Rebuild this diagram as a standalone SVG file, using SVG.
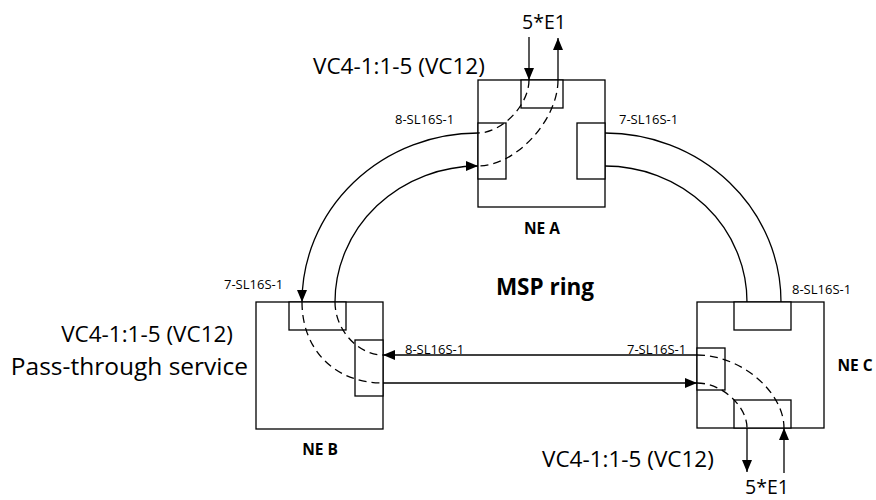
<svg xmlns="http://www.w3.org/2000/svg" width="876" height="500" viewBox="0 0 876 500">
<defs>
<style>
.box{fill:#fff;stroke:#000;stroke-width:1.3}
.port{fill:#fff;stroke:#000;stroke-width:1.3}
.ln{fill:none;stroke:#000;stroke-width:1.3}
.dash{fill:none;stroke:#000;stroke-width:1.3;stroke-dasharray:8 5}
.arr{marker-end:url(#ah)}
text{font-family:"Open Sans","Noto Sans","DejaVu Sans",sans-serif;fill:#000}
.big{font-size:22.5px}
.huge{font-size:24.5px}
.e1{font-size:19.5px}
.sm{font-size:13px}
.ne{font-size:15.5px;font-weight:bold}
.ring{font-size:22.5px;font-weight:bold}
</style>
<marker id="ah" markerWidth="12" markerHeight="10" refX="12" refY="5" orient="auto" markerUnits="userSpaceOnUse">
<path d="M0,0 L12,5 L0,10 z" fill="#000"/>
</marker>
</defs>
<rect width="876" height="500" fill="#fff"/>

<g id="ne-a">
<rect class="box" x="478" y="80" width="127" height="127"/>
<rect class="port" x="521" y="80" width="42" height="28"/>
<rect class="port" x="478" y="123" width="28" height="56"/>
<rect class="port" x="577" y="123" width="28" height="56"/>
<text class="ne" x="542" y="234" text-anchor="middle">NE A</text>
</g>

<g id="ne-b">
<rect class="box" x="256" y="302" width="127" height="127"/>
<rect class="port" x="289" y="302" width="57" height="28"/>
<rect class="port" x="355" y="340" width="28" height="56"/>
<text class="ne" x="320" y="455" text-anchor="middle">NE B</text>
</g>

<g id="ne-c">
<rect class="box" x="697" y="302" width="127" height="126"/>
<rect class="port" x="734" y="302" width="57" height="28"/>
<rect class="port" x="697" y="348" width="28" height="42"/>
<rect class="port" x="734" y="400" width="57" height="28"/>
<text class="ne" x="855" y="371" text-anchor="middle">NE C</text>
</g>

<g id="connectors">
<path class="ln arr" d="M478,133 A176,169 0 0 0 302,302"/>
<path class="ln arr" d="M335,302 A143,136 0 0 1 478,166"/>
<path class="ln" d="M605,133 A176,169 0 0 1 781,302"/>
<path class="ln" d="M605,166 A142,136 0 0 1 747,302"/>
<path class="ln arr" d="M697,355 L383,355"/>
<path class="ln arr" d="M383,383 L697,383"/>
<path class="ln arr" d="M529,37 L529,80"/>
<path class="ln arr" d="M558,80 L558,38"/>
<path class="ln arr" d="M747,428 L747,472"/>
<path class="ln arr" d="M784,473 L784,428"/>
<path class="dash" d="M529,80 C529,105 502,133 478,133"/>
<path class="dash" d="M558,80 C558,120 516,166 478,166"/>
<path class="dash" d="M302,302 C302,350 335,383 383,383"/>
<path class="dash" d="M335,302 C335,330 358,355 383,355"/>
<path class="dash" d="M697,355 C741,355 784,392 784,428"/>
<path class="dash" d="M697,383 C722,383 747,406 747,428"/>
</g>

<g id="labels">
<text class="e1" x="544" y="29" text-anchor="middle">5*E1</text>
<text class="big" x="313" y="74">VC4-1:1-5 (VC12)</text>
<text class="sm" x="395" y="124">8-SL16S-1</text>
<text class="sm" x="619" y="124">7-SL16S-1</text>
<text class="sm" x="224" y="289">7-SL16S-1</text>
<text class="sm" x="792" y="294">8-SL16S-1</text>
<text class="sm" x="405" y="354">8-SL16S-1</text>
<text class="sm" x="627" y="354">7-SL16S-1</text>
<text class="ring" x="545" y="295" text-anchor="middle">MSP ring</text>
<text class="big" x="233" y="342" text-anchor="end">VC4-1:1-5 (VC12)</text>
<text class="huge" x="248" y="375" text-anchor="end">Pass-through service</text>
<text class="big" x="542" y="467">VC4-1:1-5 (VC12)</text>
<text class="e1" x="767" y="494" text-anchor="middle">5*E1</text>
</g>
</svg>
